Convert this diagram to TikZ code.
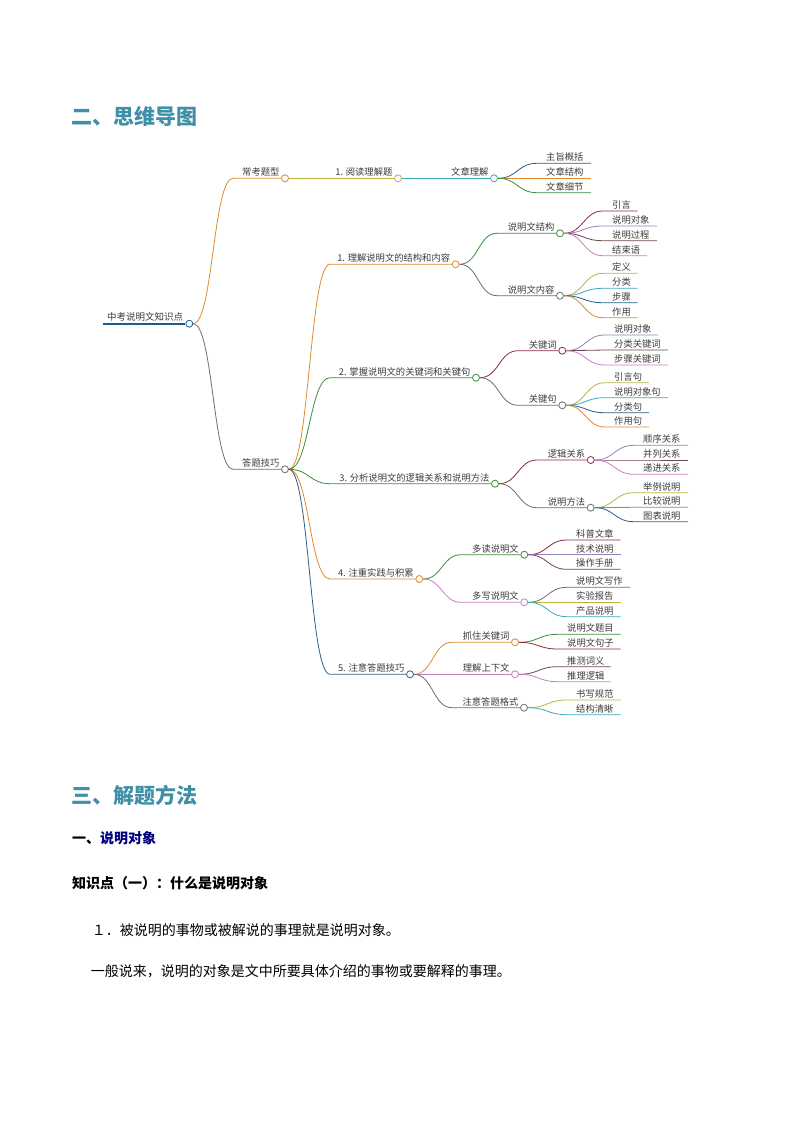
\documentclass[tikz,border=0pt]{standalone}
\usepackage{fontspec}
\setmainfont{Noto Sans CJK SC}
\usetikzlibrary{calc}
\definecolor{cOr}{HTML}{E0892F}
\definecolor{cOl}{HTML}{B9B43F}
\definecolor{cTe}{HTML}{3DA9BF}
\definecolor{cDb}{HTML}{2B5F8C}
\definecolor{cGr}{HTML}{3E8E3A}
\definecolor{cRd}{HTML}{8E2B3B}
\definecolor{cPu}{HTML}{9C82B9}
\definecolor{cBr}{HTML}{6E4450}
\definecolor{cPk}{HTML}{C681C4}
\definecolor{cGy}{HTML}{6E6E6E}
\definecolor{cTx}{HTML}{3C3C3C}
\definecolor{cRoot}{HTML}{1E5B8E}
\definecolor{cHead}{HTML}{3E8FA7}
\definecolor{cNavy}{HTML}{000080}
\tikzset{
  mmtext/.style={font=\fontsize{9.3}{10}\selectfont, text=cTx, inner sep=0pt},
  knot/.style={circle, draw=#1, fill=white, line width=0.8pt, minimum size=7pt, inner sep=0pt},
  link/.style={draw=#1, line width=0.8pt},
  headtext/.style={font=\fontsize{21}{24}\selectfont\bfseries, text=cHead, inner sep=0pt, anchor=west},
  bodytext/.style={font=\fontsize{14}{16}\selectfont, text=black, inner sep=0pt, anchor=west},
}
% branch: name, parent, colour, start x, knot x, y, text
\newcommand\mmbranch[7]{%
  \coordinate (#1s) at (#4,#6);
  \node[knot=#3] (#1) at (#5,#6) {};
  \draw[link=#3] let \p1=(#2.east), \p2=(#1s) in (\p1) .. controls ({(\x1+\x2)/2},\y1) and ({(\x1+\x2)/2},\y2) .. (\p2) -- (#1.west);
  \node[mmtext, anchor=base east] (#1t) at ($(#1.west)+(-1.5,-2.6)$) {#7};
}
% leaf: name, parent, colour, start x, end x, y, text
\newcommand\mmleaf[7]{%
  \coordinate (#1s) at (#4,#6);
  \coordinate (#1) at (#5,#6);
  \draw[link=#3] let \p1=(#2.east), \p2=(#1s) in (\p1) .. controls ({(\x1+\x2)/2},\y1) and ({(\x1+\x2)/2},\y2) .. (\p2) -- (#1);
  \node[mmtext, anchor=base west] (#1t) at ($(#1s)+(9,-2.6)$) {#7};
}
\begin{document}
\begin{tikzpicture}[x=1pt,y=-1pt]
\useasboundingbox[fill=white] (0,0) rectangle (794,1123);

% headings
\node[headtext] (h1) at (71,116) {二、思维导图};
\node[headtext] (h2) at (71,795) {三、解题方法};

% root
\coordinate (roots) at (103,323.7);
\node[knot=cRoot] (root) at (189.3,323.7) {};
\draw[cRoot, line width=2.4pt] (roots) -- (root.west);
\node[mmtext, anchor=base east, font=\fontsize{9.5}{10}\selectfont] (roott) at ($(root.west)+(-2,-3)$) {中考说明文知识点};

% upper branch
\mmbranch{ckt}{root}{cOr}{233}{285}{178.3}{常考题型}
\mmbranch{yd}{ckt}{cOl}{290}{398}{178.3}{1. 阅读理解题}
\mmbranch{wzlj}{yd}{cTe}{402}{494}{178.3}{文章理解}
\mmleaf{zz}{wzlj}{cDb}{537}{591}{163.3}{主旨概括}
\mmleaf{wzjg}{wzlj}{cOr}{537}{591}{178.3}{文章结构}
\mmleaf{wzxj}{wzlj}{cGr}{537}{591}{192.7}{文章细节}

% lower branch
\mmbranch{dtjq}{root}{cGy}{233}{285}{469.3}{答题技巧}
\mmbranch{lj}{dtjq}{cOr}{330}{455.7}{264.3}{1. 理解说明文的结构和内容}
\mmbranch{zw}{dtjq}{cGr}{330}{476}{377.7}{2. 掌握说明文的关键词和关键句}
\mmbranch{fx}{dtjq}{cGr}{330}{495}{483.7}{3. 分析说明文的逻辑关系和说明方法}
\mmbranch{zz4}{dtjq}{cOr}{330}{419.3}{579}{4. 注重实践与积累}
\mmbranch{zy5}{dtjq}{cDb}{330}{410}{674.3}{5. 注意答题技巧}

% 1
\mmbranch{smjg}{lj}{cGr}{497}{560}{233.3}{说明文结构}
\mmbranch{smnr}{lj}{cGy}{497}{560}{295.7}{说明文内容}
\mmleaf{yy}{smjg}{cRd}{603}{637.7}{211}{引言}
\mmleaf{smdx}{smjg}{cPu}{603}{657}{226}{说明对象}
\mmleaf{smgc}{smjg}{cBr}{603}{657}{240.7}{说明过程}
\mmleaf{jsy}{smjg}{cPk}{603}{647}{255.7}{结束语}
\mmleaf{dy}{smnr}{cOl}{603}{637.7}{273.3}{定义}
\mmleaf{fl}{smnr}{cTe}{603}{637.7}{288.3}{分类}
\mmleaf{bz}{smnr}{cDb}{603}{637.7}{302.7}{步骤}
\mmleaf{zyo}{smnr}{cOr}{603}{637.7}{317.7}{作用}

% 2
\mmbranch{gjc}{zw}{cRd}{518}{562.3}{350.7}{关键词}
\mmbranch{gjj}{zw}{cGy}{518}{562.3}{405.3}{关键句}
\mmleaf{smdx2}{gjc}{cPu}{605}{658}{335}{说明对象}
\mmleaf{flgjc}{gjc}{cBr}{605}{668}{350}{分类关键词}
\mmleaf{bzgjc}{gjc}{cPk}{605}{668}{365}{步骤关键词}
\mmleaf{yyj}{gjj}{cOl}{605}{649}{382.7}{引言句}
\mmleaf{smdxj}{gjj}{cTe}{605}{668}{397.7}{说明对象句}
\mmleaf{flj}{gjj}{cDb}{605}{649}{412.7}{分类句}
\mmleaf{zyj}{gjj}{cOr}{605}{649}{427}{作用句}

% 3
\mmbranch{ljgx}{fx}{cRd}{537}{590.7}{460}{逻辑关系}
\mmbranch{smff}{fx}{cGy}{537}{590.7}{507.7}{说明方法}
\mmleaf{sxgx}{ljgx}{cPu}{634}{688}{445.3}{顺序关系}
\mmleaf{blgx}{ljgx}{cBr}{634}{688}{460}{并列关系}
\mmleaf{djgx}{ljgx}{cPk}{634}{688}{474.3}{递进关系}
\mmleaf{jlsm}{smff}{cOl}{634}{688}{492.7}{举例说明}
\mmleaf{bjsm}{smff}{cTe}{634}{688}{507.3}{比较说明}
\mmleaf{tbsm}{smff}{cDb}{634}{688}{521.7}{图表说明}

% 4
\mmbranch{dd}{zz4}{cGr}{461}{524.3}{554.7}{多读说明文}
\mmbranch{dx}{zz4}{cPk}{461}{524.3}{602.3}{多写说明文}
\mmleaf{kpwz}{dd}{cRd}{567}{620.7}{540}{科普文章}
\mmleaf{jssm}{dd}{cPu}{567}{620.7}{554.7}{技术说明}
\mmleaf{czsc}{dd}{cBr}{567}{620.7}{569.3}{操作手册}
\mmleaf{smwxz}{dx}{cGy}{567}{630}{587.3}{说明文写作}
\mmleaf{sybg}{dx}{cOl}{567}{620.7}{602.3}{实验报告}
\mmleaf{cpsm}{dx}{cTe}{567}{620.7}{616.7}{产品说明}

% 5
\mmbranch{zzgjc}{zy5}{cOr}{452}{515}{642.3}{抓住关键词}
\mmbranch{ljsxw}{zy5}{cPk}{452}{515}{674.3}{理解上下文}
\mmbranch{zydtgs}{zy5}{cGy}{452}{524}{707.7}{注意答题格式}
\mmleaf{smwtm}{zzgjc}{cGr}{558}{620.7}{634.3}{说明文题目}
\mmleaf{smwjz}{zzgjc}{cRd}{558}{620.7}{649}{说明文句子}
\mmleaf{ccyy}{ljsxw}{cBr}{558}{610.7}{666.7}{推测词义}
\mmleaf{tlljj}{ljsxw}{cPk}{558}{610.7}{681.7}{推理逻辑}
\mmleaf{sxgf}{zydtgs}{cOl}{567}{620.7}{700}{书写规范}
\mmleaf{jgqx}{zydtgs}{cTe}{567}{620.7}{714.7}{结构清晰}

% body text
\node[bodytext, font=\fontsize{14}{16}\selectfont\bfseries] (s1) at (72,838) {一、\textcolor{cNavy}{说明对象}};
\node[bodytext, font=\fontsize{14}{16}\selectfont\bfseries] (s2) at (72,883.3) {知识点（一）：什么是说明对象};
\node[bodytext] (p1) at (91.7,930) {１．被说明的事物或被解说的事理就是说明对象。};
\node[bodytext] (p2) at (90.7,971.7) {一般说来，说明的对象是文中所要具体介绍的事物或要解释的事理。};
\end{tikzpicture}
\end{document}
